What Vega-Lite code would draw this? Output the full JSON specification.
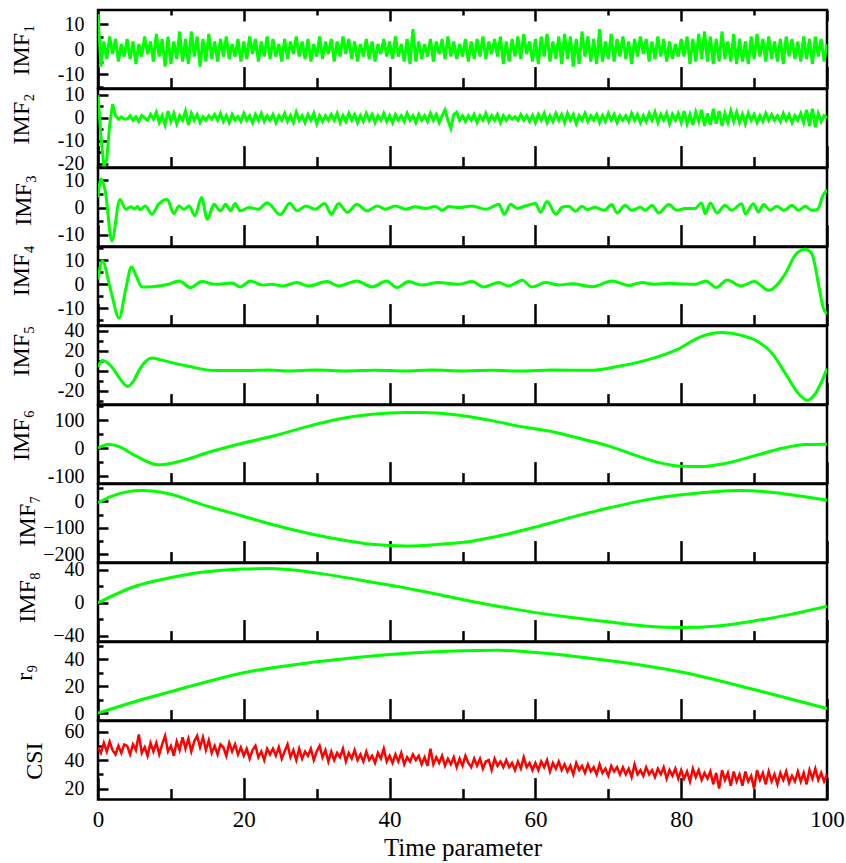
{
"$schema":"https://vega.github.io/schema/vega-lite/v6.json",
"background":"white",
"padding":{"left":7,"top":7,"right":5,"bottom":5},
"spacing":0,
"bounds":"flush",
"config":{
 "view":{"stroke":"black","strokeWidth":2.5},
 "font":"Liberation Serif",
 "axis":{"domain":false,"grid":false,"labelFont":"Liberation Serif","labelFontSize":20,"labelColor":"black","titleFont":"Liberation Serif","titleFontSize":24,"titleFontWeight":"normal","titleColor":"black","tickColor":"black","tickWidth":2.5,"labelOverlap":false},
 "axisY":{"titleAngle":270,"titleBaseline":"alphabetic","titleAlign":"center","labelPadding":24}
},
"datasets":{
"n":[
{"t":0,"a":14,"b":10,"c":49},{"t":0.4,"a":-7,"b":-8,"c":45},{"t":0.8,"a":3,"b":-21,"c":52},{"t":1.2,"a":-4,"b":-18,"c":46},{"t":1.6,"a":5,"b":-3,"c":53},{"t":2,"a":-2,"b":6,"c":47},{"t":2.4,"a":4,"b":1,"c":44},{"t":2.8,"a":-5,"b":-0.5,"c":50},{"t":3.2,"a":2,"b":0.5,"c":45},{"t":3.6,"a":-3,"b":-0.5,"c":51},
{"t":4,"a":4,"b":-0.5,"c":50},{"t":4.4,"a":-4,"b":1,"c":44},{"t":4.8,"a":3,"b":-1,"c":51},{"t":5.2,"a":-6,"b":0.5,"c":47},{"t":5.6,"a":2,"b":-1.5,"c":58},{"t":6,"a":-3,"b":1,"c":45},{"t":6.4,"a":5,"b":0,"c":49},{"t":6.8,"a":-2,"b":-1,"c":43},{"t":7.2,"a":3,"b":1.5,"c":52},{"t":7.6,"a":-5,"b":-0.5,"c":46},
{"t":8,"a":6,"b":2.5,"c":52},{"t":8.4,"a":-3,"b":-2,"c":44},{"t":8.8,"a":4,"b":1,"c":51},{"t":9.2,"a":-7,"b":-3,"c":57},{"t":9.6,"a":5,"b":3,"c":46},{"t":10,"a":-6,"b":-1.5,"c":50},{"t":10.4,"a":3,"b":2,"c":43},{"t":10.8,"a":-4,"b":-2.5,"c":53},{"t":11.2,"a":7,"b":1,"c":47},{"t":11.6,"a":-5,"b":-1,"c":56},
{"t":12,"a":4,"b":3,"c":48},{"t":12.4,"a":-6,"b":-3,"c":55},{"t":12.8,"a":7,"b":2,"c":46},{"t":13.2,"a":-3,"b":-1,"c":53},{"t":13.6,"a":5,"b":1.5,"c":57},{"t":14,"a":-7,"b":-2,"c":49},{"t":14.4,"a":4,"b":0.5,"c":56},{"t":14.8,"a":-5,"b":-1,"c":47},{"t":15.2,"a":6,"b":1,"c":54},{"t":15.6,"a":-4,"b":-0.5,"c":45},
{"t":16,"a":3,"b":1.5,"c":50},{"t":16.4,"a":-5,"b":-1,"c":44},{"t":16.8,"a":4,"b":2,"c":51},{"t":17.2,"a":-3,"b":-1.5,"c":49},{"t":17.6,"a":5,"b":1,"c":43},{"t":18,"a":-4,"b":-2,"c":52},{"t":18.4,"a":2,"b":1.5,"c":46},{"t":18.8,"a":-3,"b":-1,"c":51},{"t":19.2,"a":4,"b":0.5,"c":44},{"t":19.6,"a":-5,"b":-1.5,"c":49},
{"t":20,"a":3,"b":2,"c":43},{"t":20.4,"a":-4,"b":-1,"c":48},{"t":20.8,"a":5,"b":1,"c":41},{"t":21.2,"a":-2,"b":-2,"c":47},{"t":21.6,"a":4,"b":1.5,"c":50},{"t":22,"a":-5,"b":-1,"c":42},{"t":22.4,"a":3,"b":2,"c":46},{"t":22.8,"a":-3,"b":-1.5,"c":40},{"t":23.2,"a":5,"b":1,"c":48},{"t":23.6,"a":-4,"b":-1,"c":44},
{"t":24,"a":4,"b":1.5,"c":48},{"t":24.4,"a":-3,"b":-2,"c":43},{"t":24.8,"a":2,"b":1,"c":49},{"t":25.2,"a":-5,"b":-1,"c":41},{"t":25.6,"a":4,"b":2,"c":46},{"t":26,"a":-4,"b":-1.5,"c":51},{"t":26.4,"a":3,"b":1,"c":42},{"t":26.8,"a":-2,"b":-2,"c":47},{"t":27.2,"a":5,"b":2.5,"c":40},{"t":27.6,"a":-3,"b":-1,"c":48},
{"t":28,"a":3,"b":1,"c":41},{"t":28.4,"a":-4,"b":-2,"c":46},{"t":28.8,"a":4,"b":1.5,"c":43},{"t":29.2,"a":-5,"b":-1,"c":48},{"t":29.6,"a":2,"b":2,"c":40},{"t":30,"a":-3,"b":-2.5,"c":46},{"t":30.4,"a":5,"b":1,"c":50},{"t":30.8,"a":-4,"b":-1.5,"c":42},{"t":31.2,"a":3,"b":1,"c":47},{"t":31.6,"a":-2,"b":-1,"c":39},
{"t":32,"a":4,"b":1.5,"c":46},{"t":32.4,"a":-5,"b":-1,"c":40},{"t":32.8,"a":3,"b":2,"c":45},{"t":33.2,"a":-3,"b":-2,"c":42},{"t":33.6,"a":5,"b":1,"c":48},{"t":34,"a":-2,"b":-1.5,"c":39},{"t":34.4,"a":4,"b":2,"c":45},{"t":34.8,"a":-4,"b":-1,"c":41},{"t":35.2,"a":3,"b":1.5,"c":47},{"t":35.6,"a":-5,"b":-2,"c":40},
{"t":36,"a":2,"b":1,"c":44},{"t":36.4,"a":-3,"b":-1.5,"c":39},{"t":36.8,"a":4,"b":2,"c":46},{"t":37.2,"a":-4,"b":-1,"c":40},{"t":37.6,"a":3,"b":1.5,"c":43},{"t":38,"a":-5,"b":-2,"c":38},{"t":38.4,"a":2,"b":1,"c":45},{"t":38.8,"a":-2,"b":-1,"c":41},{"t":39.2,"a":4,"b":2,"c":48},{"t":39.6,"a":-3,"b":-1.5,"c":39},
{"t":40,"a":3,"b":1,"c":43},{"t":40.4,"a":-4,"b":-2,"c":38},{"t":40.8,"a":5,"b":1.5,"c":44},{"t":41.2,"a":-3,"b":-1,"c":39},{"t":41.6,"a":2,"b":1,"c":45},{"t":42,"a":-5,"b":-1.5,"c":37},{"t":42.4,"a":4,"b":2,"c":42},{"t":42.8,"a":-6,"b":-1,"c":39},{"t":43.2,"a":8,"b":1,"c":44},{"t":43.6,"a":-5,"b":-2,"c":40},
{"t":44,"a":3,"b":1.5,"c":43},{"t":44.4,"a":-4,"b":-1,"c":37},{"t":44.8,"a":2,"b":1,"c":42},{"t":45.2,"a":-3,"b":-1.5,"c":36},{"t":45.6,"a":4,"b":2,"c":48},{"t":46,"a":-5,"b":-1,"c":37},{"t":46.4,"a":3,"b":1.5,"c":42},{"t":46.8,"a":-2,"b":-2,"c":38},{"t":47.2,"a":4,"b":1,"c":43},{"t":47.6,"a":-4,"b":3.5,"c":36},
{"t":48,"a":5,"b":-1,"c":41},{"t":48.4,"a":-3,"b":-4.5,"c":37},{"t":48.8,"a":3,"b":1.5,"c":42},{"t":49.2,"a":-4,"b":2.5,"c":35},{"t":49.6,"a":2,"b":-1,"c":41},{"t":50,"a":-3,"b":1,"c":36},{"t":50.4,"a":4,"b":-1.5,"c":43},{"t":50.8,"a":-5,"b":1,"c":38},{"t":51.2,"a":3,"b":-1,"c":35},{"t":51.6,"a":-4,"b":1.5,"c":41},
{"t":52,"a":4,"b":-2,"c":36},{"t":52.4,"a":-3,"b":1,"c":41},{"t":52.8,"a":5,"b":-1,"c":34},{"t":53.2,"a":-4,"b":2,"c":39},{"t":53.6,"a":3,"b":-1.5,"c":40},{"t":54,"a":-2,"b":1,"c":33},{"t":54.4,"a":4,"b":-1,"c":41},{"t":54.8,"a":-3,"b":1.5,"c":36},{"t":55.2,"a":5,"b":-2,"c":39},{"t":55.6,"a":-6,"b":1,"c":35},
{"t":56,"a":3,"b":-1,"c":40},{"t":56.4,"a":-5,"b":1,"c":35},{"t":56.8,"a":4,"b":-0.5,"c":38},{"t":57.2,"a":-3,"b":0.5,"c":33},{"t":57.6,"a":5,"b":-1,"c":39},{"t":58,"a":-4,"b":1.5,"c":34},{"t":58.4,"a":6,"b":-1,"c":42},{"t":58.8,"a":-2,"b":1,"c":35},{"t":59.2,"a":3,"b":-1.5,"c":38},{"t":59.6,"a":-5,"b":1,"c":33},
{"t":60,"a":4,"b":-2,"c":38},{"t":60.4,"a":-6,"b":1.5,"c":33},{"t":60.8,"a":5,"b":-1,"c":39},{"t":61.2,"a":-3,"b":2,"c":35},{"t":61.6,"a":6,"b":-2,"c":40},{"t":62,"a":-5,"b":1,"c":32},{"t":62.4,"a":3,"b":-1.5,"c":38},{"t":62.8,"a":-4,"b":2,"c":34},{"t":63.2,"a":5,"b":-1,"c":39},{"t":63.6,"a":-6,"b":1.5,"c":33},
{"t":64,"a":6,"b":-2,"c":37},{"t":64.4,"a":-4,"b":2,"c":32},{"t":64.8,"a":5,"b":-1,"c":36},{"t":65.2,"a":-7,"b":1.5,"c":30},{"t":65.6,"a":4,"b":-2.5,"c":38},{"t":66,"a":-6,"b":1,"c":33},{"t":66.4,"a":7,"b":-1,"c":36},{"t":66.8,"a":-3,"b":2,"c":31},{"t":67.2,"a":5,"b":-1.5,"c":37},{"t":67.6,"a":-5,"b":1,"c":32},
{"t":68,"a":4,"b":-1,"c":35},{"t":68.4,"a":-6,"b":1.5,"c":30},{"t":68.8,"a":8,"b":-2,"c":37},{"t":69.2,"a":-5,"b":1,"c":31},{"t":69.6,"a":3,"b":-1.5,"c":34},{"t":70,"a":-4,"b":2,"c":29},{"t":70.4,"a":6,"b":-1,"c":36},{"t":70.8,"a":-5,"b":1.5,"c":32},{"t":71.2,"a":4,"b":-2,"c":35},{"t":71.6,"a":-3,"b":1,"c":30},
{"t":72,"a":5,"b":-1,"c":35},{"t":72.4,"a":-4,"b":1,"c":30},{"t":72.8,"a":3,"b":-1.5,"c":34},{"t":73.2,"a":-6,"b":2,"c":28},{"t":73.6,"a":4,"b":-1,"c":37},{"t":74,"a":-3,"b":1.5,"c":30},{"t":74.4,"a":5,"b":-2,"c":33},{"t":74.8,"a":-2,"b":1,"c":29},{"t":75.2,"a":4,"b":-1.5,"c":35},{"t":75.6,"a":-5,"b":2,"c":30},
{"t":76,"a":3,"b":-1,"c":33},{"t":76.4,"a":-4,"b":2.5,"c":28},{"t":76.8,"a":5,"b":-2,"c":34},{"t":77.2,"a":-3,"b":1.5,"c":30},{"t":77.6,"a":4,"b":-1,"c":35},{"t":78,"a":-5,"b":2,"c":27},{"t":78.4,"a":3,"b":-2.5,"c":33},{"t":78.8,"a":-4,"b":1.5,"c":29},{"t":79.2,"a":2,"b":-1,"c":34},{"t":79.6,"a":-3,"b":2,"c":27},
{"t":80,"a":4,"b":-2,"c":33},{"t":80.4,"a":-3,"b":3,"c":27},{"t":80.8,"a":5,"b":-2.5,"c":32},{"t":81.2,"a":-6,"b":1.5,"c":25},{"t":81.6,"a":4,"b":-3,"c":34},{"t":82,"a":-5,"b":2.5,"c":28},{"t":82.4,"a":6,"b":-1.5,"c":33},{"t":82.8,"a":-4,"b":3.5,"c":26},{"t":83.2,"a":7,"b":-3.5,"c":31},{"t":83.6,"a":-5,"b":2,"c":27},
{"t":84,"a":5,"b":-3,"c":32},{"t":84.4,"a":-6,"b":4,"c":23},{"t":84.8,"a":4,"b":-2.5,"c":31},{"t":85.2,"a":-5,"b":3,"c":20},{"t":85.6,"a":7,"b":-3.5,"c":33},{"t":86,"a":-4,"b":2,"c":26},{"t":86.4,"a":3,"b":-2,"c":31},{"t":86.8,"a":-5,"b":3,"c":22},{"t":87.2,"a":6,"b":-1.5,"c":32},{"t":87.6,"a":-6,"b":2.5,"c":25},
{"t":88,"a":4,"b":-2,"c":30},{"t":88.4,"a":-5,"b":1.5,"c":22},{"t":88.8,"a":3,"b":-2.5,"c":32},{"t":89.2,"a":-6,"b":2,"c":25},{"t":89.6,"a":5,"b":-1,"c":29},{"t":90,"a":-4,"b":1.5,"c":20},{"t":90.4,"a":6,"b":-2,"c":33},{"t":90.8,"a":-3,"b":1,"c":26},{"t":91.2,"a":4,"b":-1.5,"c":31},{"t":91.6,"a":-5,"b":2,"c":23},
{"t":92,"a":5,"b":-1,"c":32},{"t":92.4,"a":-4,"b":1.5,"c":25},{"t":92.8,"a":3,"b":-1,"c":30},{"t":93.2,"a":-5,"b":1,"c":23},{"t":93.6,"a":4,"b":-1.5,"c":31},{"t":94,"a":-6,"b":2,"c":26},{"t":94.4,"a":5,"b":-1,"c":32},{"t":94.8,"a":-3,"b":1.5,"c":24},{"t":95.2,"a":4,"b":-2,"c":29},{"t":95.6,"a":-4,"b":1,"c":25},
{"t":96,"a":3,"b":-1,"c":32},{"t":96.4,"a":-5,"b":2,"c":25},{"t":96.8,"a":5,"b":-2,"c":31},{"t":97.2,"a":-4,"b":3.5,"c":23},{"t":97.6,"a":4,"b":-3.5,"c":33},{"t":98,"a":-6,"b":4,"c":27},{"t":98.4,"a":5,"b":-4,"c":34},{"t":98.8,"a":-3,"b":2,"c":26},{"t":99.2,"a":4,"b":-1.5,"c":31},{"t":99.6,"a":-5,"b":1,"c":25},
{"t":100,"a":2,"b":0,"c":30}
],
"s":[
{"s":"i3","t":0,"v":3.7},{"s":"i3","t":0.4,"v":10.5},{"s":"i3","t":1,"v":6},{"s":"i3","t":1.9,"v":-12.3},{"s":"i3","t":3,"v":3},{"s":"i3","t":3.8,"v":-0.6},{"s":"i3","t":4.5,"v":0.3},{"s":"i3","t":5,"v":-0.5},{"s":"i3","t":5.4,"v":0.4},{"s":"i3","t":5.8,"v":-0.8},{"s":"i3","t":6.5,"v":0.6},{"s":"i3","t":7.4,"v":-2.5},{"s":"i3","t":8.3,"v":1.2},{"s":"i3","t":9.5,"v":3},{"s":"i3","t":10.4,"v":-2.2},{"s":"i3","t":11.1,"v":0.6},{"s":"i3","t":11.8,"v":-0.6},{"s":"i3","t":12.5,"v":0.6},{"s":"i3","t":13.3,"v":-3},{"s":"i3","t":14.2,"v":3.7},{"s":"i3","t":15,"v":-4.3},{"s":"i3","t":15.9,"v":1.2},{"s":"i3","t":16.8,"v":-1.2},{"s":"i3","t":17.5,"v":1.2},{"s":"i3","t":18.2,"v":-1.2},{"s":"i3","t":18.8,"v":1.5},{"s":"i3","t":19.5,"v":-1.2},{"s":"i3","t":20.7,"v":0},{"s":"i3","t":22,"v":-0.6},{"s":"i3","t":23.2,"v":1.8},{"s":"i3","t":25,"v":-2.6},{"s":"i3","t":26.3,"v":1.6},{"s":"i3","t":27.3,"v":-1.2},{"s":"i3","t":28.5,"v":0.6},{"s":"i3","t":29.8,"v":-0.6},{"s":"i3","t":31.1,"v":1.5},{"s":"i3","t":32,"v":-2.5},{"s":"i3","t":33,"v":1.5},{"s":"i3","t":34.2,"v":-1.8},{"s":"i3","t":35.5,"v":1.2},{"s":"i3","t":36.9,"v":-1.2},{"s":"i3","t":38.3,"v":0.6},{"s":"i3","t":39.4,"v":-0.6},{"s":"i3","t":40.8,"v":0.6},{"s":"i3","t":42.2,"v":-0.6},{"s":"i3","t":43.5,"v":0.3},{"s":"i3","t":44.9,"v":-0.3},{"s":"i3","t":46.3,"v":0.4},{"s":"i3","t":47.2,"v":-1},{"s":"i3","t":48.1,"v":0.4},{"s":"i3","t":49.5,"v":0},{"s":"i3","t":51.3,"v":0.6},{"s":"i3","t":53.2,"v":-0.6},{"s":"i3","t":55,"v":1.2},{"s":"i3","t":55.7,"v":-2.5},{"s":"i3","t":56.6,"v":1.2},{"s":"i3","t":57.5,"v":-0.3},{"s":"i3","t":58.6,"v":0.6},{"s":"i3","t":60,"v":1.5},{"s":"i3","t":60.7,"v":-1.8},{"s":"i3","t":61.6,"v":2.2},{"s":"i3","t":62.8,"v":-2.5},{"s":"i3","t":63.7,"v":0.2},{"s":"i3","t":64.6,"v":0.5},{"s":"i3","t":65.5,"v":-1.4},{"s":"i3","t":66.4,"v":0.5},{"s":"i3","t":67.1,"v":-0.7},{"s":"i3","t":68.2,"v":0.1},{"s":"i3","t":69.4,"v":-1},{"s":"i3","t":70.5,"v":1.1},{"s":"i3","t":71.2,"v":-2},{"s":"i3","t":72.3,"v":0.9},{"s":"i3","t":73.2,"v":-1},{"s":"i3","t":74.4,"v":0.1},{"s":"i3","t":75.1,"v":-1},{"s":"i3","t":76,"v":0.9},{"s":"i3","t":76.9,"v":-2},{"s":"i3","t":78.3,"v":1.1},{"s":"i3","t":79.4,"v":-1},{"s":"i3","t":80.5,"v":-0.3},{"s":"i3","t":81.9,"v":-0.3},{"s":"i3","t":82.8,"v":1.7},{"s":"i3","t":83.3,"v":-2.3},{"s":"i3","t":84,"v":1.7},{"s":"i3","t":84.9,"v":-2},{"s":"i3","t":86,"v":0.9},{"s":"i3","t":86.9,"v":-1},{"s":"i3","t":88.3,"v":1.4},{"s":"i3","t":88.8,"v":-2.3},{"s":"i3","t":89.9,"v":1.4},{"s":"i3","t":90.6,"v":-1.6},{"s":"i3","t":91.3,"v":1.1},{"s":"i3","t":92.2,"v":-1},{"s":"i3","t":93.1,"v":0.5},{"s":"i3","t":94.1,"v":-1},{"s":"i3","t":95.2,"v":0.9},{"s":"i3","t":96.1,"v":-1},{"s":"i3","t":97,"v":0.5},{"s":"i3","t":97.9,"v":-1},{"s":"i3","t":98.7,"v":-0.7},{"s":"i3","t":99.5,"v":4.8},{"s":"i3","t":100,"v":6.5},
{"s":"i4","t":0,"v":2},{"s":"i4","t":0.6,"v":9.7},{"s":"i4","t":1.7,"v":-2},{"s":"i4","t":2.9,"v":-14},{"s":"i4","t":3.8,"v":-2},{"s":"i4","t":4.6,"v":7.2},{"s":"i4","t":5.3,"v":3},{"s":"i4","t":6,"v":-1.1},{"s":"i4","t":7.4,"v":-1},{"s":"i4","t":9.7,"v":0},{"s":"i4","t":11.1,"v":1.4},{"s":"i4","t":12.7,"v":-1.4},{"s":"i4","t":14.2,"v":1.1},{"s":"i4","t":16.1,"v":0},{"s":"i4","t":18.4,"v":0.5},{"s":"i4","t":19.5,"v":-1.1},{"s":"i4","t":20.9,"v":1.4},{"s":"i4","t":22.5,"v":-0.3},{"s":"i4","t":23.9,"v":0},{"s":"i4","t":25.3,"v":-0.7},{"s":"i4","t":27.3,"v":0.7},{"s":"i4","t":28.9,"v":-0.7},{"s":"i4","t":31.4,"v":1.1},{"s":"i4","t":33,"v":-0.7},{"s":"i4","t":35.5,"v":1.4},{"s":"i4","t":37.6,"v":-1.1},{"s":"i4","t":39.6,"v":1.4},{"s":"i4","t":41,"v":-1.4},{"s":"i4","t":42.6,"v":1.1},{"s":"i4","t":44.4,"v":-0.3},{"s":"i4","t":46.7,"v":0.7},{"s":"i4","t":49.5,"v":0},{"s":"i4","t":51.3,"v":1.1},{"s":"i4","t":52.9,"v":-1.1},{"s":"i4","t":55,"v":0.7},{"s":"i4","t":56.3,"v":-0.7},{"s":"i4","t":58.2,"v":1.7},{"s":"i4","t":59.5,"v":-1.1},{"s":"i4","t":61.4,"v":0.7},{"s":"i4","t":63.2,"v":-0.3},{"s":"i4","t":65,"v":0.2},{"s":"i4","t":67.8,"v":-1},{"s":"i4","t":70.5,"v":1.4},{"s":"i4","t":72.8,"v":-0.5},{"s":"i4","t":74.6,"v":0.7},{"s":"i4","t":76.4,"v":0},{"s":"i4","t":78.3,"v":0.4},{"s":"i4","t":80.3,"v":0.1},{"s":"i4","t":81.9,"v":0},{"s":"i4","t":83.4,"v":1.4},{"s":"i4","t":84.8,"v":-1.4},{"s":"i4","t":86.3,"v":1.8},{"s":"i4","t":88.2,"v":-0.7},{"s":"i4","t":90,"v":1.1},{"s":"i4","t":92,"v":-2.5},{"s":"i4","t":94.1,"v":3.5},{"s":"i4","t":95.8,"v":12.8},{"s":"i4","t":97,"v":14.6},{"s":"i4","t":97.9,"v":12.8},{"s":"i4","t":98.9,"v":-1},{"s":"i4","t":99.5,"v":-10},{"s":"i4","t":100,"v":-12.2},
{"s":"i5","t":0,"v":3.7},{"s":"i5","t":0.6,"v":10},{"s":"i5","t":1.9,"v":3.7},{"s":"i5","t":3,"v":-8},{"s":"i5","t":4.1,"v":-16},{"s":"i5","t":4.9,"v":-10},{"s":"i5","t":5.6,"v":0},{"s":"i5","t":6.5,"v":9},{"s":"i5","t":7.4,"v":12.7},{"s":"i5","t":8.5,"v":11},{"s":"i5","t":9.7,"v":8.7},{"s":"i5","t":12.4,"v":4.3},{"s":"i5","t":16.1,"v":0},{"s":"i5","t":19.8,"v":0},{"s":"i5","t":23.5,"v":0.7},{"s":"i5","t":26,"v":-0.3},{"s":"i5","t":30,"v":0.5},{"s":"i5","t":34,"v":-0.3},{"s":"i5","t":38,"v":0.4},{"s":"i5","t":42,"v":-0.4},{"s":"i5","t":46,"v":0.5},{"s":"i5","t":50,"v":-0.3},{"s":"i5","t":54,"v":0.3},{"s":"i5","t":58,"v":-0.5},{"s":"i5","t":62.3,"v":0.5},{"s":"i5","t":67.8,"v":0.3},{"s":"i5","t":71.4,"v":4.3},{"s":"i5","t":76,"v":12},{"s":"i5","t":79.7,"v":22},{"s":"i5","t":82.4,"v":33},{"s":"i5","t":85.6,"v":38},{"s":"i5","t":88.4,"v":35},{"s":"i5","t":90.6,"v":28.7},{"s":"i5","t":92.5,"v":17},{"s":"i5","t":94.3,"v":-3},{"s":"i5","t":96.1,"v":-23},{"s":"i5","t":97.3,"v":-29.7},{"s":"i5","t":98.4,"v":-23},{"s":"i5","t":100,"v":2},
{"s":"i6","t":0,"v":0},{"s":"i6","t":1.5,"v":14},{"s":"i6","t":2.9,"v":5},{"s":"i6","t":5.1,"v":-27},{"s":"i6","t":8.3,"v":-60},{"s":"i6","t":11.1,"v":-48},{"s":"i6","t":15.2,"v":-15},{"s":"i6","t":19.8,"v":17},{"s":"i6","t":23.9,"v":42},{"s":"i6","t":28.3,"v":74},{"s":"i6","t":33,"v":104},{"s":"i6","t":37.6,"v":121},{"s":"i6","t":42.2,"v":127},{"s":"i6","t":44.4,"v":127},{"s":"i6","t":49,"v":119},{"s":"i6","t":53.6,"v":100},{"s":"i6","t":58.2,"v":76},{"s":"i6","t":62.8,"v":56},{"s":"i6","t":66,"v":35},{"s":"i6","t":70,"v":8},{"s":"i6","t":74,"v":-28},{"s":"i6","t":77,"v":-52},{"s":"i6","t":80,"v":-65},{"s":"i6","t":83,"v":-66},{"s":"i6","t":86,"v":-55},{"s":"i6","t":90,"v":-28},{"s":"i6","t":94,"v":0},{"s":"i6","t":97,"v":13},{"s":"i6","t":100,"v":14},
{"s":"i7","t":0,"v":-5},{"s":"i7","t":1.9,"v":20},{"s":"i7","t":6,"v":41},{"s":"i7","t":9.7,"v":29},{"s":"i7","t":14.2,"v":-11},{"s":"i7","t":19.8,"v":-55},{"s":"i7","t":23.9,"v":-87},{"s":"i7","t":28.5,"v":-118},{"s":"i7","t":33,"v":-143},{"s":"i7","t":37.6,"v":-162},{"s":"i7","t":42.2,"v":-168},{"s":"i7","t":46.7,"v":-162},{"s":"i7","t":51.3,"v":-150},{"s":"i7","t":55.9,"v":-125},{"s":"i7","t":60.5,"v":-93},{"s":"i7","t":65,"v":-59},{"s":"i7","t":70,"v":-25},{"s":"i7","t":75,"v":5},{"s":"i7","t":80,"v":25},{"s":"i7","t":85,"v":38},{"s":"i7","t":88,"v":41},{"s":"i7","t":92,"v":36},{"s":"i7","t":96,"v":22},{"s":"i7","t":100,"v":5},
{"s":"i8","t":0,"v":0},{"s":"i8","t":5.1,"v":20},{"s":"i8","t":9.7,"v":30},{"s":"i8","t":14.2,"v":37},{"s":"i8","t":19.8,"v":41},{"s":"i8","t":23.5,"v":41.5},{"s":"i8","t":28.5,"v":38},{"s":"i8","t":33,"v":32},{"s":"i8","t":37.6,"v":25},{"s":"i8","t":42.2,"v":18},{"s":"i8","t":46.7,"v":10},{"s":"i8","t":51.3,"v":1.6},{"s":"i8","t":55.9,"v":-5.7},{"s":"i8","t":60.5,"v":-12.5},{"s":"i8","t":65,"v":-17.8},{"s":"i8","t":70,"v":-23},{"s":"i8","t":75,"v":-28},{"s":"i8","t":80,"v":-30},{"s":"i8","t":85,"v":-28},{"s":"i8","t":90,"v":-22},{"s":"i8","t":95,"v":-14},{"s":"i8","t":100,"v":-4},
{"s":"r","t":0,"v":0},{"s":"r","t":5,"v":8.5},{"s":"r","t":10,"v":16},{"s":"r","t":20,"v":30},{"s":"r","t":30,"v":38},{"s":"r","t":40,"v":43.5},{"s":"r","t":50,"v":46.3},{"s":"r","t":55,"v":46.5},{"s":"r","t":60,"v":45},{"s":"r","t":70,"v":39},{"s":"r","t":80,"v":30.5},{"s":"r","t":90,"v":17.5},{"s":"r","t":95,"v":10.5},{"s":"r","t":100,"v":3.5}
]
},
"vconcat":[
{"width":729,"height":78.6,"data":{"name":"n"},
 "layer":[
  {"mark":{"type":"line","color":"#00ff00","strokeWidth":3,"clip":true},
   "encoding":{
    "x":{"field":"t","type":"quantitative","scale":{"domain":[0,100],"nice":false},"axis":{"orient":"bottom","values":[0,10,20,30,40,50,60,70,80,90,100],"tickSize":{"condition":{"test":"datum.value % 20 === 0","value":-22},"value":-11},"labels":false,"title":null}},
    "y":{"field":"a","type":"quantitative","scale":{"domain":[-15.8,15.6],"nice":false,"zero":false},"axis":{"values":[-15,-10,-5,0,5,10],"tickSize":{"condition":{"test":"datum.value % 10 === 0","value":-10},"value":-5},"labelExpr":"datum.value % 10 === 0 ? (datum.value < 0 ? '-' : '') + abs(datum.value) : ''","title":"IMF₁","titleX":-70,"titleY":39.5}}}},
  {"mark":{"type":"line","opacity":0},
   "encoding":{
    "x":{"field":"t","type":"quantitative","scale":{"domain":[0,100],"nice":false},"axis":{"orient":"top","values":[0,10,20,30,40,50,60,70,80,90,100],"tickSize":{"condition":{"test":"datum.value % 20 === 0","value":-11},"value":-5},"labels":false,"title":null}},
    "y":{"field":"a","type":"quantitative","scale":{"domain":[-15.8,15.6],"nice":false,"zero":false},"axis":{"values":[-15,-10,-5,0,5,10],"tickSize":{"condition":{"test":"datum.value % 10 === 0","value":-10},"value":-5},"labelExpr":"datum.value % 10 === 0 ? (datum.value < 0 ? '-' : '') + abs(datum.value) : ''","title":"IMF₁","titleX":-70,"titleY":39.5}}}}
 ],
 "resolve":{"axis":{"x":"independent"}}
},
{"width":729,"height":78.6,"data":{"name":"n"},
 "mark":{"type":"line","color":"#00ff00","strokeWidth":3,"clip":true},
 "encoding":{
  "x":{"field":"t","type":"quantitative","scale":{"domain":[0,100],"nice":false},"axis":{"values":[0,10,20,30,40,50,60,70,80,90,100],"tickSize":{"condition":{"test":"datum.value % 20 === 0","value":-22},"value":-11},"labels":false,"title":null}},
  "y":{"field":"b","type":"quantitative","scale":{"domain":[-21.6,12.6],"nice":false,"zero":false},"axis":{"values":[-20,-15,-10,-5,0,5,10],"tickSize":{"condition":{"test":"datum.value % 10 === 0","value":-10},"value":-5},"labelExpr":"datum.value % 10 === 0 ? (datum.value < 0 ? '-' : '') + abs(datum.value) : ''","title":"IMF₂","titleX":-70,"titleY":29.4}}}
},
{"width":729,"height":78.6,"data":{"name":"s"},"transform":[{"filter":"datum.s === 'i3'"}],
 "mark":{"type":"line","color":"#00ff00","strokeWidth":3,"clip":true,"interpolate":"monotone"},
 "encoding":{
  "x":{"field":"t","type":"quantitative","scale":{"domain":[0,100],"nice":false},"axis":{"values":[0,10,20,30,40,50,60,70,80,90,100],"tickSize":{"condition":{"test":"datum.value % 20 === 0","value":-22},"value":-11},"labels":false,"title":null}},
  "y":{"field":"v","type":"quantitative","scale":{"domain":[-14.4,14.6],"nice":false,"zero":false},"axis":{"values":[-10,-5,0,5,10],"tickSize":{"condition":{"test":"datum.value % 10 === 0","value":-10},"value":-5},"labelExpr":"datum.value % 10 === 0 ? (datum.value < 0 ? '-' : '') + abs(datum.value) : ''","title":"IMF₃","titleX":-68,"titleY":31.8}}}
},
{"width":729,"height":78.6,"data":{"name":"s"},"transform":[{"filter":"datum.s === 'i4'"}],
 "mark":{"type":"line","color":"#00ff00","strokeWidth":3,"clip":true,"interpolate":"monotone"},
 "encoding":{
  "x":{"field":"t","type":"quantitative","scale":{"domain":[0,100],"nice":false},"axis":{"values":[0,10,20,30,40,50,60,70,80,90,100],"tickSize":{"condition":{"test":"datum.value % 20 === 0","value":-22},"value":-11},"labels":false,"title":null}},
  "y":{"field":"v","type":"quantitative","scale":{"domain":[-17.2,15.5],"nice":false,"zero":false},"axis":{"values":[-15,-10,-5,0,5,10,15],"tickSize":{"condition":{"test":"datum.value % 10 === 0","value":-10},"value":-5},"labelExpr":"datum.value % 10 === 0 ? (datum.value < 0 ? '-' : '') + abs(datum.value) : ''","title":"IMF₄","titleX":-70,"titleY":23.2}}}
},
{"width":729,"height":78.6,"data":{"name":"s"},"transform":[{"filter":"datum.s === 'i5'"}],
 "mark":{"type":"line","color":"#00ff00","strokeWidth":3,"clip":true,"interpolate":"monotone"},
 "encoding":{
  "x":{"field":"t","type":"quantitative","scale":{"domain":[0,100],"nice":false},"axis":{"values":[0,10,20,30,40,50,60,70,80,90,100],"tickSize":{"condition":{"test":"datum.value % 20 === 0","value":-22},"value":-11},"labels":false,"title":null}},
  "y":{"field":"v","type":"quantitative","scale":{"domain":[-34,44.6],"nice":false,"zero":false},"axis":{"values":[-30,-20,-10,0,10,20,30,40],"tickSize":{"condition":{"test":"datum.value % 20 === 0","value":-10},"value":-5},"labelExpr":"datum.value % 20 === 0 ? (datum.value < 0 ? '-' : '') + abs(datum.value) : ''","title":"IMF₅","titleX":-70,"titleY":24.6}}}
},
{"width":729,"height":78.6,"data":{"name":"s"},"transform":[{"filter":"datum.s === 'i6'"}],
 "mark":{"type":"line","color":"#00ff00","strokeWidth":3,"clip":true,"interpolate":"monotone"},
 "encoding":{
  "x":{"field":"t","type":"quantitative","scale":{"domain":[0,100],"nice":false},"axis":{"values":[0,10,20,30,40,50,60,70,80,90,100],"tickSize":{"condition":{"test":"datum.value % 20 === 0","value":-22},"value":-11},"labels":false,"title":null}},
  "y":{"field":"v","type":"quantitative","scale":{"domain":[-127,154],"nice":false,"zero":false},"axis":{"values":[-100,-50,0,50,100,150],"tickSize":{"condition":{"test":"datum.value % 100 === 0","value":-10},"value":-5},"labelExpr":"datum.value % 100 === 0 ? (datum.value < 0 ? '-' : '') + abs(datum.value) : ''","title":"IMF₆","titleX":-70,"titleY":30}}}
},
{"width":729,"height":78.6,"data":{"name":"s"},"transform":[{"filter":"datum.s === 'i7'"}],
 "mark":{"type":"line","color":"#00ff00","strokeWidth":3,"clip":true,"interpolate":"monotone"},
 "encoding":{
  "x":{"field":"t","type":"quantitative","scale":{"domain":[0,100],"nice":false},"axis":{"values":[0,10,20,30,40,50,60,70,80,90,100],"tickSize":{"condition":{"test":"datum.value % 20 === 0","value":-22},"value":-11},"labels":false,"title":null}},
  "y":{"field":"v","type":"quantitative","scale":{"domain":[-231,66],"nice":false,"zero":false},"axis":{"values":[-200,-150,-100,-50,0,50],"tickSize":{"condition":{"test":"datum.value % 100 === 0","value":-10},"value":-5},"labelExpr":"datum.value % 100 === 0 ? (datum.value < 0 ? '−' : '') + abs(datum.value) : ''","title":"IMF₇","titleX":-64,"titleY":36.4}}}
},
{"width":729,"height":78.6,"data":{"name":"s"},"transform":[{"filter":"datum.s === 'i8'"}],
 "mark":{"type":"line","color":"#00ff00","strokeWidth":3,"clip":true,"interpolate":"monotone"},
 "encoding":{
  "x":{"field":"t","type":"quantitative","scale":{"domain":[0,100],"nice":false},"axis":{"values":[0,10,20,30,40,50,60,70,80,90,100],"tickSize":{"condition":{"test":"datum.value % 20 === 0","value":-22},"value":-11},"labels":false,"title":null}},
  "y":{"field":"v","type":"quantitative","scale":{"domain":[-47,48.2],"nice":false,"zero":false},"axis":{"values":[-40,-20,0,20,40],"tickSize":{"condition":{"test":"datum.value % 40 === 0","value":-10},"value":-5},"labelExpr":"datum.value % 40 === 0 ? (datum.value < 0 ? '−' : '') + abs(datum.value) : ''","title":"IMF₈","titleX":-64,"titleY":33.8}}}
},
{"width":729,"height":78.6,"data":{"name":"s"},"transform":[{"filter":"datum.s === 'r'"}],
 "mark":{"type":"line","color":"#00ff00","strokeWidth":3,"clip":true,"interpolate":"monotone"},
 "encoding":{
  "x":{"field":"t","type":"quantitative","scale":{"domain":[0,100],"nice":false},"axis":{"values":[0,10,20,30,40,50,60,70,80,90,100],"tickSize":{"condition":{"test":"datum.value % 20 === 0","value":-22},"value":-11},"labels":false,"title":null}},
  "y":{"field":"v","type":"quantitative","scale":{"domain":[-5.5,52.7],"nice":false,"zero":false},"axis":{"values":[0,10,20,30,40,50],"tickSize":{"condition":{"test":"datum.value % 20 === 0","value":-10},"value":-5},"labelExpr":"datum.value % 20 === 0 ? datum.label : ''","title":"r₉","titleX":-67,"titleY":30.2}}}
},
{"width":729,"height":78.6,"data":{"name":"n"},
 "mark":{"type":"line","color":"#ff0000","strokeWidth":2.5,"clip":true},
 "encoding":{
  "x":{"field":"t","type":"quantitative","scale":{"domain":[0,100],"nice":false},"axis":{"values":[0,10,20,30,40,50,60,70,80,90,100],"tickSize":{"condition":{"test":"datum.value % 20 === 0","value":-22},"value":-11},"labelExpr":"datum.value % 20 === 0 ? datum.label : ''","labelFontSize":23,"labelFlush":false,"labelPadding":31,"title":"Time parameter","titleFontSize":25,"titleBaseline":"alphabetic","titleY":56}},
  "y":{"field":"c","type":"quantitative","scale":{"domain":[12.3,67.4],"nice":false,"zero":false},"axis":{"values":[20,30,40,50,60],"tickSize":{"condition":{"test":"datum.value % 20 === 0","value":-10},"value":-5},"labelExpr":"datum.value % 20 === 0 ? datum.label : ''","title":"CSI","titleX":-57,"titleY":39.6}}}
}
]
}
